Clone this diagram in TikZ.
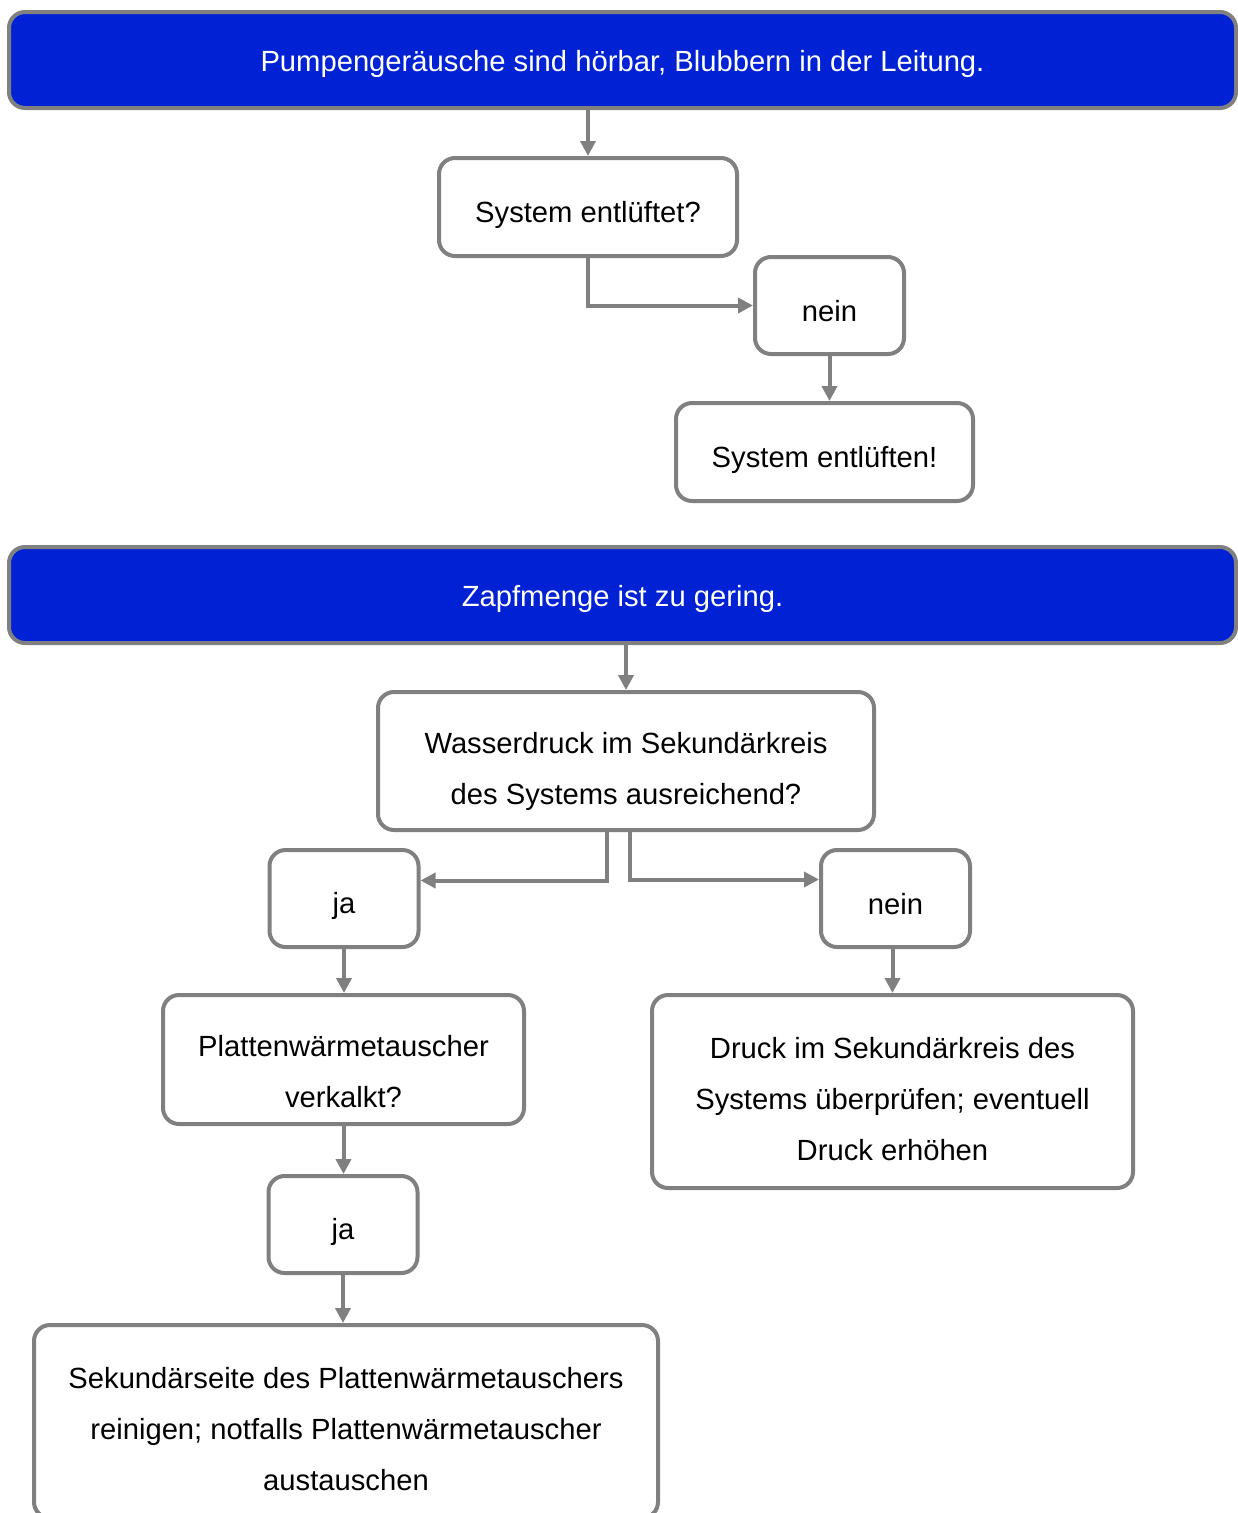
\documentclass[tikz,border=0pt]{standalone}
\usepackage{fontspec}
\setmainfont{Liberation Sans}
\usetikzlibrary{arrows.meta}
\definecolor{headblue}{RGB}{0,34,212}
\definecolor{framegray}{RGB}{128,128,128}

\tikzset{strut top/.store in=\strutTop, strut top=37pt}

\begin{document}
\begin{tikzpicture}[x=1pt, y=-1pt,
  box/.style={rectangle, draw=framegray, line width=4pt, rounded corners=16pt, fill=white,
              text centered, align=center, inner sep=0pt, font=\fontsize{29.2}{51}\selectfont,
              execute at begin node={\rule{0pt}{\strutTop}},
              execute at end node={\rule[-6pt]{0pt}{6pt}}},
  head/.style={box, fill=headblue, text=white, strut top=29pt, minimum width=1227pt, minimum height=96pt},
  multi/.style={box, strut top=42pt, text width=#1, align=flush center},
  small/.style={box, minimum width=149pt, minimum height=97pt},
  arrow/.style={-{Triangle[length=15pt, width=15pt]}, line width=4pt, draw=framegray}
]
\useasboundingbox (0,0) rectangle (1238,1513);

% first problem
\node[head] (top1) at (622.5,60) {Pumpengeräusche sind hörbar, Blubbern in der Leitung.};
\node[box, minimum width=298pt, minimum height=98pt] (q1) at (588,207) {System entlüftet?};
\node[small] (no1) at (829.5,305.5) {nein};
\node[box, minimum width=297pt, minimum height=98pt] (act1) at (824.5,452) {System entlüften!};

% second problem
\node[head] (top2) at (622.5,595) {Zapfmenge ist zu gering.};
\node[multi=470pt, minimum width=496pt, minimum height=138pt] (q2) at (626,761) {Wasserdruck im Sekundärkreis\\des Systems ausreichend?};
\node[small] (yes2) at (344,898.5) {ja};
\node[small] (no2) at (895.5,898.5) {nein};
\node[multi=340pt, strut top=50pt, minimum width=361pt, minimum height=129pt] (q3) at (343.5,1059.5) {Plattenwärmetauscher\\verkalkt?};
\node[multi=460pt, minimum width=481pt, minimum height=193pt] (act2) at (892.5,1091.5) {Druck im Sekundärkreis des\\Systems überprüfen; eventuell\\Druck erhöhen};
\node[small] (yes3) at (343,1224.5) {ja};
\node[multi=600pt, minimum width=624pt, minimum height=193pt] (act3) at (346,1421.5) {Sekundärseite des Plattenwärmetauschers\\reinigen; notfalls Plattenwärmetauscher\\austauschen};

\draw[arrow] (top1.south -| q1.north) -- (q1.north);
\draw[arrow] (q1) |- (no1);
\draw[arrow] (no1.south) -- (no1.south |- act1.north);
\draw[arrow] (top2.south -| q2.north) -- (q2.north);
\draw[arrow] ([xshift=-19pt]q2.south) |- ([yshift=18pt]yes2.east);
\draw[arrow] ([xshift=4pt]q2.south) |- ([yshift=19pt]no2.west);
\draw[arrow] (yes2.south) -- (yes2.south |- q3.north);
\draw[arrow] (no2.south -| act2.north) -- (act2.north);
\draw[arrow] (q3.south) -- (q3.south |- yes3.north);
\draw[arrow] (yes3.south) -- (yes3.south |- act3.north);
\end{tikzpicture}
\end{document}
